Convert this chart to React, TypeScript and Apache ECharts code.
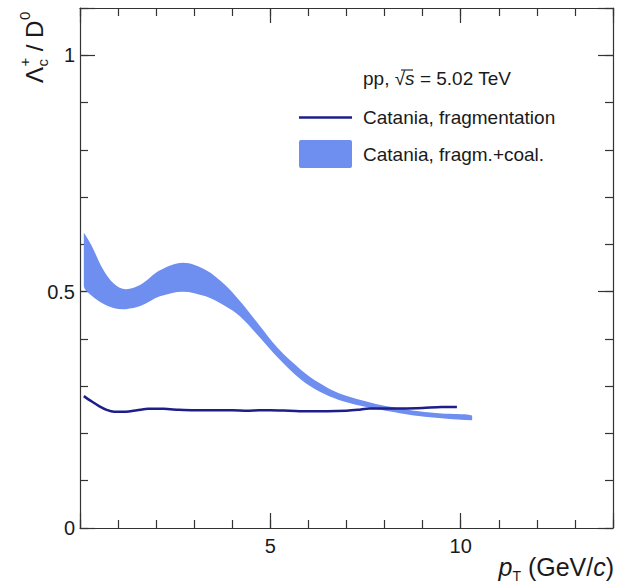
import React, { useEffect, useRef } from 'react';
import * as echarts from 'echarts';

// ---- data ----
const bandPt = [0.1, 0.3, 0.6, 0.9, 1.2, 1.6, 2.1, 2.7, 3.3, 3.8, 4.2, 4.7, 5.2, 5.8, 6.3, 6.8, 7.4, 7.9, 8.4, 8.9, 9.5, 10.3];
const bandLow = [0.512, 0.492, 0.475, 0.465, 0.463, 0.470, 0.490, 0.500, 0.490, 0.470, 0.448, 0.405, 0.360, 0.314, 0.288, 0.271, 0.258, 0.250, 0.243, 0.237, 0.232, 0.228];
const bandHigh = [0.624, 0.598, 0.548, 0.516, 0.505, 0.515, 0.545, 0.561, 0.546, 0.515, 0.480, 0.430, 0.380, 0.335, 0.306, 0.285, 0.270, 0.260, 0.253, 0.247, 0.242, 0.238];

const linePt = [0.1, 0.3, 0.5, 0.7, 0.9, 1.2, 1.5, 1.8, 2.2, 2.6, 3.0, 3.5, 4.0, 4.4, 4.7, 5.0, 5.5, 6.0, 6.5, 7.0, 7.3, 7.6, 8.0, 8.5, 9.0, 9.5, 9.9];
const lineVal = [0.279, 0.268, 0.258, 0.250, 0.246, 0.246, 0.249, 0.252, 0.252, 0.250, 0.249, 0.249, 0.249, 0.248, 0.249, 0.249, 0.248, 0.247, 0.247, 0.248, 0.250, 0.253, 0.253, 0.253, 0.254, 0.256, 0.256];

const xTickLabels = [5, 10];
const yTickLabels = ['0', '0.5', '1'];

const LINE_NAME = 'Catania, fragmentation';
const BAND_NAME = 'Catania, fragm.+coal.';

const FONT = '"Liberation Sans", Arial, Helvetica, sans-serif';
const INK = '#1a1a1a';
const FRAME = '#333333';
const NAVY = '#1e1e8a';
const BAND = '#6e8ef0';

function xAxisCfg(position: string, major: boolean, labels: boolean) {
  return {
    type: 'value',
    position,
    min: 0,
    max: 14,
    interval: major ? 5 : 1,
    axisLine: { show: major, onZero: false, lineStyle: { color: FRAME, width: 1.2 } },
    axisTick: { show: true, inside: true, length: major ? 15 : 8, lineStyle: { color: FRAME, width: 1.2 } },
    axisLabel: {
      show: labels,
      margin: 8,
      fontSize: 20,
      fontFamily: FONT,
      color: INK,
      formatter: (v: number) => (xTickLabels.includes(Math.round(v * 1000) / 1000) ? String(Math.round(v)) : ''),
    },
    splitLine: { show: false },
  };
}

function yAxisCfg(position: string, major: boolean, labels: boolean) {
  return {
    type: 'value',
    position,
    min: 0,
    max: 1.1,
    interval: major ? 0.5 : 0.1,
    axisLine: { show: major, onZero: false, lineStyle: { color: FRAME, width: 1.2 } },
    axisTick: { show: true, inside: true, length: major ? 15 : 8, lineStyle: { color: FRAME, width: 1.2 } },
    axisLabel: {
      show: labels,
      margin: 5,
      fontSize: 20,
      fontFamily: FONT,
      color: INK,
      formatter: (v: number) => {
        const r = String(Math.round(v * 10) / 10);
        return yTickLabels.includes(r) ? r : '';
      },
    },
    splitLine: { show: false },
  };
}

export default function App() {
  const ref = useRef<HTMLDivElement>(null);

  useEffect(() => {
    const chart = echarts.init(ref.current!, null, { renderer: 'svg' });
    const bandRows = bandPt.map((x, i) => [x, bandLow[i], bandHigh[i]]);
    const option: any = {
      animation: false,
      backgroundColor: '#ffffff',
      grid: { left: 80, right: 4, top: 8, bottom: 58, containLabel: false },
      xAxis: [
        xAxisCfg('bottom', true, true),
        xAxisCfg('bottom', false, false),
        xAxisCfg('top', true, false),
        xAxisCfg('top', false, false),
      ],
      yAxis: [
        yAxisCfg('left', true, true),
        yAxisCfg('left', false, false),
        yAxisCfg('right', true, false),
        yAxisCfg('right', false, false),
      ],
      legend: {
        orient: 'vertical',
        left: 299,
        top: 108,
        padding: 0,
        itemWidth: 53,
        itemHeight: 28,
        itemGap: 13,
        selectedMode: false,
        textStyle: { fontFamily: FONT, fontSize: 19, color: INK, padding: [0, 0, 0, 6] },
        data: [
          { name: LINE_NAME, icon: 'path://M0,0H53V2.6H0Z' },
          { name: BAND_NAME, icon: 'path://M2,0H51Q53,0 53,2V26Q53,28 51,28H2Q0,28 0,26V2Q0,0 2,0Z' },
        ],
      },
      series: [
        {
          name: BAND_NAME,
          type: 'custom',
          xAxisIndex: 0,
          yAxisIndex: 0,
          data: bandRows,
          encode: { x: 0, y: [1, 2] },
          itemStyle: { color: BAND },
          color: BAND,
          renderItem: (params: any, api: any) => {
            if (params.dataIndex !== 0) return { type: 'group', children: [] };
            const top = bandRows.map((r) => api.coord([r[0], r[2]]));
            const bot = bandRows.map((r) => api.coord([r[0], r[1]])).reverse();
            const pts = top.concat(bot);
            let minX = Infinity, minY = Infinity, maxX = -Infinity, maxY = -Infinity;
            pts.forEach((p: number[]) => {
              minX = Math.min(minX, p[0]); maxX = Math.max(maxX, p[0]);
              minY = Math.min(minY, p[1]); maxY = Math.max(maxY, p[1]);
            });
            return {
              type: 'polygon',
              shape: { points: pts, smooth: 0.35, smoothConstraint: [[minX, minY], [maxX, maxY]] },
              style: { fill: BAND, stroke: 'none' },
            };
          },
        },
        {
          name: LINE_NAME,
          type: 'line',
          xAxisIndex: 0,
          yAxisIndex: 0,
          data: linePt.map((x, i) => [x, lineVal[i]]),
          symbol: 'none',
          smooth: 0.3,
          color: NAVY,
          lineStyle: { color: NAVY, width: 2.5 },
          z: 3,
        },
      ],
      graphic: [
        {
          type: 'text',
          x: 363,
          y: 78,
          z: 10,
          style: {
            text: '{n|pp, √}{i|s}{n| = 5.02 TeV}',
            align: 'left',
            verticalAlign: 'middle',
            rich: {
              n: { fontSize: 19, fontFamily: FONT, fill: INK },
              i: { fontSize: 19, fontFamily: FONT, fontStyle: 'italic', fill: INK },
            },
          },
        },
        {
          type: 'line',
          z: 10,
          shape: { x1: 401, y1: 70, x2: 413, y2: 70 },
          style: { stroke: INK, lineWidth: 1.1 },
        },
        {
          type: 'group',
          x: 34,
          y: 83,
          z: 10,
          rotation: Math.PI / 2,
          children: [
            { type: 'text', x: 0, y: 0, style: { text: 'Λ', fontSize: 24, fontFamily: FONT, fill: INK, align: 'left', verticalAlign: 'middle' } },
            { type: 'text', x: 16.5, y: 8, style: { text: 'c', fontSize: 15, fontFamily: FONT, fill: INK, align: 'left', verticalAlign: 'middle' } },
            { type: 'text', x: 16.5, y: -10, style: { text: '+', fontSize: 15, fontFamily: FONT, fill: INK, align: 'left', verticalAlign: 'middle' } },
            { type: 'text', x: 25, y: 0, style: { text: ' / D', fontSize: 24, fontFamily: FONT, fill: INK, align: 'left', verticalAlign: 'middle' } },
            { type: 'text', x: 63, y: -10, style: { text: '0', fontSize: 15, fontFamily: FONT, fill: INK, align: 'left', verticalAlign: 'middle' } },
          ],
        },
        {
          type: 'text',
          x: 614,
          y: 567,
          z: 10,
          style: {
            text: '{p|p}{s|T}{n| (GeV/}{i|c}{n|)}',
            align: 'right',
            verticalAlign: 'middle',
            rich: {
              p: { fontSize: 25, fontFamily: FONT, fontStyle: 'italic', fill: INK, lineHeight: 32, verticalAlign: 'middle' },
              s: { fontSize: 14, fontFamily: FONT, fill: INK, lineHeight: 14, verticalAlign: 'bottom' },
              n: { fontSize: 25, fontFamily: FONT, fill: INK, lineHeight: 32, verticalAlign: 'middle' },
              i: { fontSize: 25, fontFamily: FONT, fontStyle: 'italic', fill: INK, lineHeight: 32, verticalAlign: 'middle' },
            },
          },
        },
      ],
    };
    chart.setOption(option);
    return () => chart.dispose();
  }, []);

  return (
    <div
      ref={ref}
      style={{ position: 'fixed', left: 0, top: 0, width: 617, height: 586, background: '#ffffff' }}
    />
  );
}
